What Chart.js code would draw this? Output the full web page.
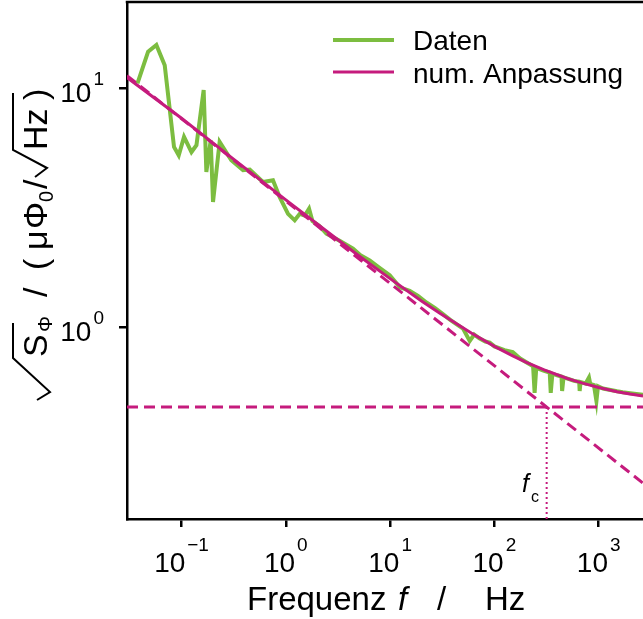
<!DOCTYPE html>
<html>
<head>
<meta charset="utf-8">
<script src="https://cdn.jsdelivr.net/npm/chart.js@4/dist/chart.umd.min.js"></script>
<style>
  html, body { margin: 0; padding: 0; background: #fff; overflow: hidden; }
  #wrap { width: 643px; height: 619px; }
</style>
</head>
<body>
<div id="wrap"><canvas id="chart" width="643" height="619"></canvas></div>
<script>
// measured flux noise spectrum, f in Hz, sqrt(S_phi) in uPhi0/sqrt(Hz)
const dataFreq = [0.0378, 0.0478, 0.0574, 0.069, 0.0847, 0.094, 0.1057, 0.1245, 0.139, 0.163,
  0.173, 0.1905, 0.2004, 0.232, 0.30, 0.389, 0.451, 0.604, 0.753, 0.874,
  1.05, 1.217, 1.36, 1.52, 1.67, 1.80, 2.1, 2.45, 3.28, 4.41,
  5.2, 6.37, 7.8, 9.91, 12.4, 15.4, 18.5, 22.3, 27, 32.1,
  38, 43.2, 50, 58, 64, 72.3, 82, 90.2, 100, 125,
  150, 175, 210, 235, 243, 252, 300, 339, 347, 360,
  400, 440, 446, 460, 520, 580, 650, 657, 670, 750,
  807, 830, 900, 951, 985, 1100, 1300, 1500, 1700, 2000,
  2300, 2660];
const dataNoise = [10.5, 14.25, 15.2, 12.5, 5.68, 5.24, 6.26, 5.41, 5.78, 9.84,
  4.46, 6.06, 3.34, 5.97, 5.0, 4.54, 4.57, 4.05, 4.12, 3.50,
  2.98, 2.80, 2.98, 2.93, 3.13, 2.78, 2.65, 2.46, 2.30, 2.13,
  2.0, 1.90, 1.78, 1.65, 1.466, 1.42, 1.35, 1.267, 1.2, 1.133,
  1.07, 1.028, 0.985, 0.875, 0.93, 0.895, 0.87, 0.861, 0.83, 0.80,
  0.785, 0.74, 0.705, 0.685, 0.53, 0.675, 0.655, 0.645, 0.53, 0.638,
  0.628, 0.62, 0.54, 0.615, 0.605, 0.595, 0.59, 0.54, 0.588, 0.58,
  0.615, 0.578, 0.572, 0.49, 0.565, 0.553, 0.545, 0.538, 0.533, 0.528,
  0.524, 0.52];

// numerical fit
const fitFreq = [0.03, 0.1, 0.3, 1, 3, 5, 10, 20, 30, 60, 100, 150, 200, 300, 500, 700, 1000, 1500, 2000, 2660];
const fitNoise = [11.1, 7.49, 5.14, 3.41, 2.36, 1.99, 1.595, 1.287, 1.143, 0.944, 0.830, 0.757, 0.713, 0.661, 0.609, 0.582, 0.558, 0.536, 0.524, 0.514];

// asymptotes and corner frequency
const whiteLevel = 0.463;
const cornerFreq = 317;
const slopeFreq = [0.03, 2660];
const slopeNoise = [11.3, 0.222];

const xRange = [0.03, 2660];
const yRange = [0.157, 23.0];
const xTickExp = [-1, 0, 1, 2, 3];
const yTickExp = [0, 1];

const GREEN = '#7cbd40';
const PINK = '#c51b7d';
const FONT = "'Liberation Sans', Arial, Helvetica, sans-serif";

function pairs(xs, ys) {
  return xs.map((x, i) => ({ x: x, y: ys[i] }));
}

function expText(e) {
  return e < 0 ? '\u2212' + (-e) : String(e);
}

function radical(ctx, u0, v0, u1, v1, u2, v2, uEnd) {
  ctx.beginPath();
  ctx.moveTo(u0, v0);
  ctx.lineTo(u1, v1);
  ctx.lineTo(u2, v2);
  ctx.lineTo(uEnd, v2);
  ctx.stroke();
}

function text(ctx, s, u, v, size, italic) {
  ctx.font = (italic ? 'italic ' : '') + size + 'px ' + FONT;
  ctx.fillText(s, u, v);
}

const decor = {
  id: 'decor',
  afterDraw(chart) {
    const ctx = chart.ctx, a = chart.chartArea;
    const xs = chart.scales.x, ys = chart.scales.y;
    ctx.save();

    // top spine
    ctx.strokeStyle = '#000';
    ctx.lineWidth = 2.5;
    ctx.beginPath();
    ctx.moveTo(a.left - 1.25, a.top);
    ctx.lineTo(a.right, a.top);
    ctx.stroke();

    ctx.fillStyle = '#000';
    ctx.textBaseline = 'alphabetic';
    ctx.textAlign = 'left';

    // x tick labels 10^n
    xTickExp.forEach(e => {
      const px = xs.getPixelForValue(Math.pow(10, e));
      ctx.font = '28px ' + FONT;
      const w10 = ctx.measureText('10').width;
      ctx.font = '19px ' + FONT;
      const s = expText(e);
      const ws = ctx.measureText(s).width;
      const left = px - (w10 + 2 + ws) / 2;
      text(ctx, '10', left, 572, 28);
      text(ctx, s, left + w10 + 2, 551, 19);
    });

    // y tick labels
    yTickExp.forEach(e => {
      const py = ys.getPixelForValue(Math.pow(10, e));
      ctx.font = '19px ' + FONT;
      const s = expText(e);
      const ws = ctx.measureText(s).width;
      ctx.font = '28px ' + FONT;
      const w10 = ctx.measureText('10').width;
      const right = 104;
      text(ctx, s, right - ws, py - 3, 19);
      text(ctx, '10', right - ws - 2 - w10, py + 14, 28);
    });

    // x axis title
    text(ctx, 'Frequenz', 247, 610, 33);
    text(ctx, 'f', 398, 610, 33, true);
    text(ctx, '/', 437, 610, 33);
    text(ctx, 'Hz', 485, 610, 33);

    // f_c annotation
    text(ctx, 'f', 522, 492, 25, true);
    text(ctx, 'c', 531, 502, 16);

    // legend
    ctx.lineWidth = 4;
    ctx.strokeStyle = GREEN;
    ctx.beginPath(); ctx.moveTo(333, 40); ctx.lineTo(394, 40); ctx.stroke();
    ctx.lineWidth = 3;
    ctx.strokeStyle = PINK;
    ctx.beginPath(); ctx.moveTo(333, 72); ctx.lineTo(394, 72); ctx.stroke();
    text(ctx, 'Daten', 413, 50, 28);
    text(ctx, 'num. Anpassung', 413, 83, 28);

    // y axis title, rotated
    ctx.translate(47, 400);
    ctx.rotate(-Math.PI / 2);
    ctx.strokeStyle = '#000';
    ctx.lineWidth = 2;
    radical(ctx, 0, -10, 8, 3, 42, -34, 77);
    text(ctx, 'S', 43, 0, 34);
    text(ctx, '\u03A6', 68, 5, 20);
    text(ctx, '/', 103, 0, 34);
    text(ctx, '(', 130, 0, 34);
    text(ctx, '\u03BC', 150, 0, 34);
    text(ctx, '\u03A6', 171, 0, 34);
    text(ctx, '0', 198, 6, 20);
    text(ctx, '/', 211, 0, 34);
    radical(ctx, 223, -12, 232, 0, 250, -34, 307);
    text(ctx, 'Hz', 250, 0, 34);
    text(ctx, ')', 300, 0, 34);

    ctx.restore();
  }
};

const axisCommon = {
  type: 'logarithmic',
  bounds: 'data',
  border: { display: true, color: '#000', width: 2.5 },
  grid: { display: true, drawOnChartArea: false, drawTicks: true, tickLength: 8, color: '#000', lineWidth: 2.5 },
  ticks: { display: false }
};

new Chart(document.getElementById('chart'), {
  type: 'line',
  data: {
    datasets: [
      {
        label: 'Daten',
        data: pairs(dataFreq, dataNoise),
        borderColor: GREEN,
        borderWidth: 4,
        pointRadius: 0,
        order: 10
      },
      {
        label: 'num. Anpassung',
        data: pairs(fitFreq, fitNoise),
        borderColor: PINK,
        borderWidth: 3,
        pointRadius: 0,
        order: 1
      },
      {
        label: '1/f',
        data: pairs(slopeFreq, slopeNoise),
        borderColor: PINK,
        borderWidth: 3,
        borderDash: [11, 6],
        pointRadius: 0,
        order: 2
      },
      {
        label: 'weiss',
        data: pairs(xRange, [whiteLevel, whiteLevel]),
        borderColor: PINK,
        borderWidth: 3,
        borderDash: [11, 6],
        pointRadius: 0,
        order: 2
      },
      {
        label: 'fc',
        data: pairs([cornerFreq, cornerFreq], [whiteLevel, yRange[0]]),
        borderColor: PINK,
        borderWidth: 2,
        borderDash: [2, 3],
        pointRadius: 0,
        order: 2
      }
    ]
  },
  options: {
    responsive: false,
    animation: false,
    devicePixelRatio: 1,
    layout: { padding: { left: 0, right: 0, top: 2, bottom: 0 } },
    plugins: { legend: { display: false }, tooltip: { enabled: false } },
    elements: { line: { tension: 0 } },
    scales: {
      x: Object.assign({}, axisCommon, {
        min: xRange[0], max: xRange[1],
        afterFit: s => { s.height = 100; },
        afterBuildTicks: s => { s.ticks = xTickExp.map(e => ({ value: Math.pow(10, e) })); }
      }),
      y: Object.assign({}, axisCommon, {
        min: yRange[0], max: yRange[1],
        afterFit: s => { s.width = 127; },
        afterBuildTicks: s => { s.ticks = yTickExp.map(e => ({ value: Math.pow(10, e) })); }
      })
    }
  },
  plugins: [decor]
});
</script>
</body>
</html>
